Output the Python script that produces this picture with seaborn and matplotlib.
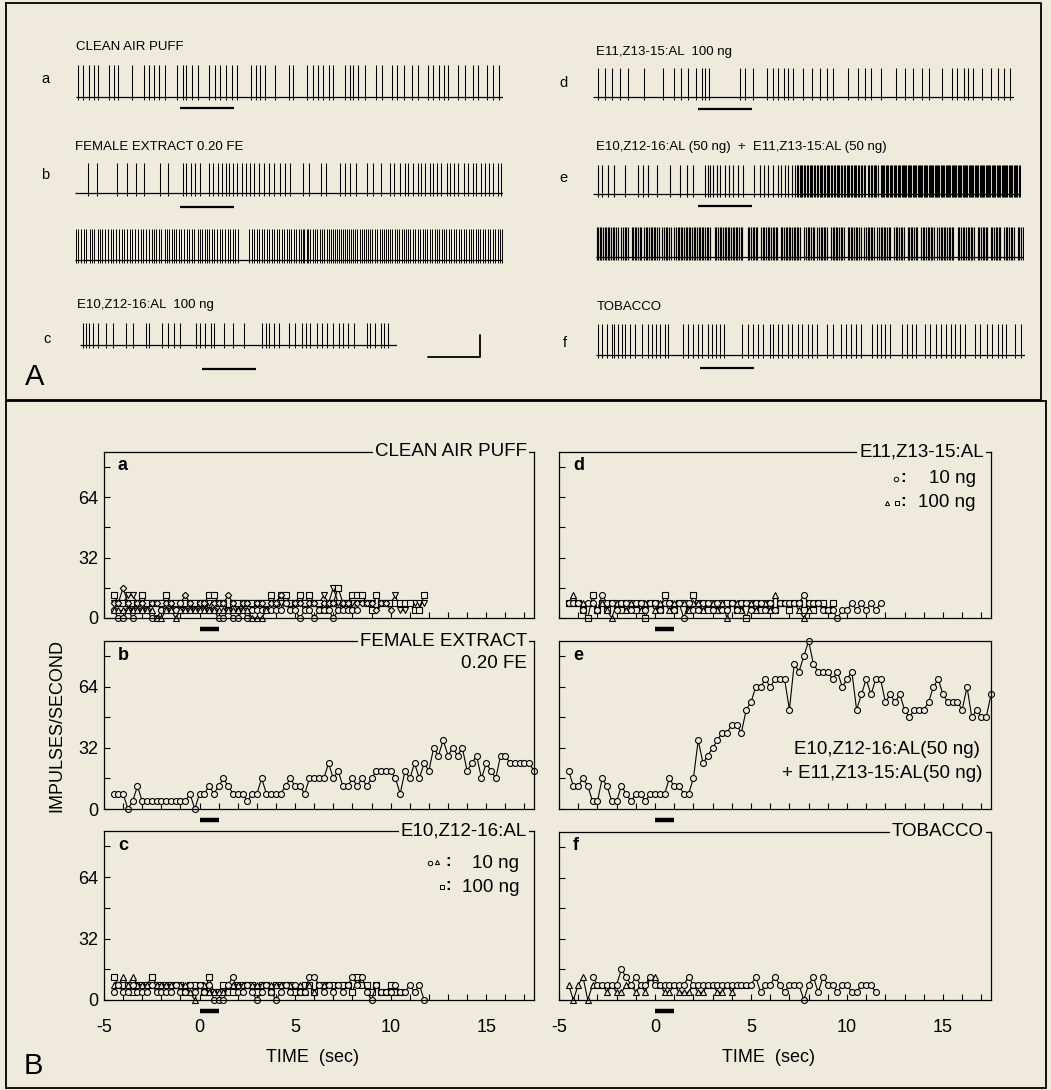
import numpy as np
import matplotlib
matplotlib.use("Agg")
import matplotlib.pyplot as plt
from matplotlib.ticker import MultipleLocator, FixedLocator
import matplotlib.transforms as mtransforms
from matplotlib.lines import Line2D
import seaborn as sns

# =====================  DATA  =====================
# ---- Panel A: spike times (ms relative to stimulus onset) ----
spikes_a = [-1890,-1790,-1680,-1600,-1520,-1310,-1230,-1140,-880,-670,-570,-490,-380,-280,-60,50,120,230,330,
            540,640,740,850,960,1060,1310,1410,1490,1570,1760,2010,2090,2360,2460,2550,2640,2750,2830,3060,3140,
            3210,3300,3430,3630,3740,3920,4010,4140,4290,4410,4600,4690,4800,4880,4970,5140,5280,5420,5510,5680,
            5790,5910]
spikes_b = [-1700,-1540,-1170,-990,-810,-660,-370,-230,50,110,200,280,370,540,620,700,770,850,910,990,1050,1140,
            1220,1300,1370,1470,1560,1650,1750,1850,1940,2040,2270,2380,2620,2700,2960,3050,3150,3260,3460,3570,
            3730,3890,3970,4070,4170,4230,4320,4400,4460,4540,4630,4690,4760,4840,4940,5000,5070,5150,5250,5330,
            5420,5490,5570,5650,5730,5800,5880,5950]
spikes_b_cont = [6000,6045,6100,6140,6190,6250,6290,6340,6400,6440,6490,6540,6600,6650,6690,6740,6800,6850,6890,
                 6950,7000,7040,7090,7150,7200,7240,7290,7350,7400,7440,7480,7530,7580,7640,7690,7730,7770,7810,
                 7860,7900,7950,8000,8050,8090,8140,8190,8250,8300,8340,8380,8420,8470,8520,8560,8610,8660,8700,
                 8760,8810,8850,8900,8950,9000,9210,9250,9300,9350,9390,9440,9490,9530,9580,9620,9670,9720,9760,
                 9810,9850,9900,9950,9990,10030,10080,10120,10160,10200,10230,10270,10300,10340,10380,10420,10470,
                 10510,10550,10590,10640,10680,10720,10760,10800,10830,10870,10900,10940,10980,11020,11060,11100,
                 11130,11170,11210,11250,11290,11330,11370,11410,11450,11490,11540,11580,11620,11660,11700,11740,
                 11780,11820,11860,11900,11950,11990,12030,12070,12110,12150,12190,12240,12280,12330,12370,12420,
                 12460,12500,12550,12590,12640,12680,12730,12770,12820,12860,12910,12950,13000,13040,13090,13130,
                 13180,13220,13270,13310,13360,13400,13450,13490,13540,13580,13630,13670,13720,13760,13810,13850,13890]
spikes_c = [-2209,-2147,-2085,-2011,-1919,-1777,-1641,-1407,-1271,-1037,-975,-747,-623,-518,-407,-111,-37,56,160,
            222,407,580,784,1104,1185,1246,1333,1431,1617,1721,1845,1925,1999,2135,2215,2308,2431,2542,2616,2709,
            2820,3048,3110,3202,3313,3369,3449]
spikes_d = [-1857,-1721,-1586,-1444,-1302,-993,-654,-438,-315,-179,-37,68,130,210,777,870,1012,1271,1394,1487,
            1598,1672,1765,1950,2104,2258,2382,2505,2770,2968,3091,3202,3387,3659,3832,3986,4140,4276,4510,4695,
            4788,4930,5004,5096,5263,5423,5559,5664,5775]
spikes_e = [-1857,-1771,-1660,-1549,-1351,-1104,-1012,-932,-765,-518,-333,-210,-86,130,179,228,284,346,407,500,
            574,654,747,839,1043,1148,1228,1302,1394,1475,1536,1610,1672,1734,
            1800,1825,1850,1880,1905,1930,1960,1985,2010,2040,2065,2090,2115,2145,2170,2200,2225,2250,2280,2300,
            2330,2355,2380,2410,2435,2460,2490,2515,2540,2565,2595,2620,2645,2675,2700,2725,2750,2780,2805,2830,
            2860,2885,2910,2935,2965,2990,3015,3045,3070,3095,3150,3175,3200,3225,3250,3275,3300,3325,3380,3400,
            3425,3450,3475,3500,3525,3550,3570,3600,3625,3650,3670,3700,3720,3745,3770,3790,3815,3840,3860,3885,
            3905,3930,3950,3975,4000,4020,4045,4065,4090,4110,4135,4155,4180,4200,4225,4245,4270,4290,4315,4335,
            4360,4380,4405,4425,4450,4470,4495,4515,4540,4560,4585,4605,4630,4650,4675,4695,4720,4740,4765,4785,
            4810,4830,4855,4875,4900,4920,4945,4965,4990,5010,5035,5055,5080,5100,5125,5145,5170,5190,5215,5235,
            5260,5280,5305,5325,5350,5370,5395,5415,5440,5460,5485,5505,5530,5550,5575,5595,5620,5640,5665,5685,
            5710,5730,5755,5775,5800,5820,5845,5865,5890,5910,5935,5955]
spikes_e_cont = [6000,6030,6060,6090,6120,6150,6180,6210,6240,6270,6300,6330,6360,6390,6460,6490,6520,6550,6580,
                 6650,6680,6710,6740,6770,6800,6830,6880,6910,6940,6970,7000,7030,7060,7090,7120,7150,7220,7250,
                 7280,7310,7340,7370,7440,7470,7500,7530,7560,7590,7620,7650,7680,7710,7740,7770,7800,7830,7860,
                 7890,7920,7950,7980,8010,8040,8070,8100,8190,8220,8250,8280,8310,8340,8370,8400,8430,8460,8490,
                 8520,8550,8580,8610,8640,8670,8700,8800,8830,8860,8890,8920,8950,8980,9050,9080,9110,9140,9170,
                 9200,9230,9260,9290,9320,9350,9410,9440,9470,9500,9530,9560,9590,9620,9650,9680,9710,9740,9770,
                 9850,9880,9910,9940,9970,10000,10030,10090,10120,10150,10180,10210,10240,10270,10340,10370,10400,
                 10430,10460,10490,10520,10550,10580,10650,10680,10710,10740,10770,10800,10830,10860,10890,10960,
                 10990,11020,11050,11080,11110,11140,11200,11230,11260,11290,11320,11350,11380,11410,11440,11510,
                 11540,11570,11600,11630,11660,11690,11760,11790,11820,11850,11880,11910,11940,12010,12040,12070,
                 12100,12130,12160,12190,12220,12250,12310,12340,12370,12400,12430,12460,12490,12520,12550,12580,
                 12610,12690,12720,12750,12780,12810,12840,12870,12900,12930,12960,12990,13060,13090,13120,13150,
                 13180,13210,13240,13300,13330,13360,13390,13420,13450,13480,13550,13580,13610,13640,13670,13700,
                 13730,13800,13830,13860,13890]
spikes_f = [-1894,-1808,-1728,-1635,-1586,-1524,-1450,-1388,-1296,-1203,-1067,-969,-895,-814,-740,-648,-598,-309,
            -216,-123,-31,43,142,216,290,370,450,771,882,987,1080,1172,1296,1357,1438,1512,1635,1709,1820,1894,
            1993,2079,2160,2345,2468,2610,2696,2795,2881,2980,3190,3270,3350,3424,3517,3733,3825,3918,3992,4165,
            4257,4362,4461,4547,4646,4720,4813,4905,5090,5183,5306,5399,5522,5596,5676,5831,5954]

trace_titles = ["CLEAN AIR PUFF", "FEMALE EXTRACT 0.20 FE", "E10,Z12-16:AL  100 ng",
                "E11,Z13-15:AL  100 ng", "E10,Z12-16:AL (50 ng)  +  E11,Z13-15:AL (50 ng)", "TOBACCO"]
STIM_MS = 1000          # stimulus duration (ms)

# ---- Panel B: impulses/second in 0.25 s bins ----
BIN = 0.25
STIM_S = 1.0
rate_a_circle = [4,0,0,4,0,4,4,4,0,0,4,4,4,4,8,4,4,4,4,4,4,4,0,0,4,0,0,4,0,4,4,4,4,4,4,4,8,4,4,0,4,4,0,4,4,4,
                 0,4,4,4,4,4]
rate_a_square = [12,8,8,8,8,8,12,8,8,8,8,12,8,8,4,8,8,8,8,8,12,12,8,8,4,8,8,8,8,8,8,8,8,12,8,12,12,8,8,12,8,12,
                 8,8,4,8,8,16,8,8,12,12,12,8,4,12,8,8,8,8,8,8,8,4,4,12]
rate_a_diamond = [8,8,16,8,4,8,8,4,8,8,4,8,8,4,8,12,8,4,8,8,4,8,8,8,12,8,4,8,8,4,8,8,4,8,8,12,8,4,8,8,4,8,8,4,
                  8,8,8,4,8,8,4,8,8,8,8,4,8,8,4]
rate_a_tridown = [8,8,8,12,12,8,8,8,8,8,8,8,8,8,8,8,8,8,8,8,8,8,8,8,4,8,8,8,8,8,8,8,8,8,8,8,8,8,8,8,8,8,8,8,12,
                  8,16,8,8,8,8,8,8,8,8,4,8,8,8,12,4,4,8,8,8,8]
rate_a_triup = [4,4,4,4,4,4,4,4,4,0,0,4,4,0,4,4,4,4,4,4,4,4,4,4,4,4,4,4,4,0,0,0,4]

rate_b = [8,8,8,0,4,12,4,4,4,4,4,4,4,4,4,4,8,0,8,8,12,8,12,16,12,8,8,8,4,8,8,16,8,8,8,8,12,16,12,12,8,16,16,16,
          16,24,16,20,12,12,16,12,16,12,16,20,20,20,20,16,8,20,16,24,16,24,20,32,28,36,28,32,28,32,20,24,28,16,24,
          20,16,28,28,24,24,24,24,24,20]

rate_c_circle = [4,8,4,4,8,4,4,4,8,4,4,4,4,8,4,4,8,4,8,4,8,0,0,0,8,12,4,4,8,4,0,4,8,4,0,4,8,4,8,4,4,12,12,8,4,
                 8,4,8,4,8,12,8,12,4,0,8,4,4,4,8,4,4,8,4,8,0]
rate_c_triangle = [8,8,12,8,12,8,8,8,8,8,8,8,8,8,8,8,4,0,8,8,4,4,4,4,8,8,8,8,8,8,8,8,8,8,8,8,8,8,8,8,4,8,4,8,8,8]
rate_c_square = [12,8,8,8,4,8,8,8,12,8,8,8,8,8,8,4,8,8,8,4,12,4,4,8,4,4,8,8,8,8,4,8,8,4,8,8,8,8,4,4,8,8,4,8,8,8,
                 8,8,8,8,4,12,8,8,4,8,4,4,8,4,4]

rate_d_circle = [8,8,8,4,8,8,4,12,8,8,4,8,8,4,8,8,4,8,8,4,8,8,4,8,0,8,4,4,8,8,4,8,4,4,8,4,8,8,4,8,8,4,8,4,8,8,8,
                 8,8,12,8,8,8,4,4,4,0,4,4,8,4,8,4,8,4,8]
rate_d_square = [8,8,8,4,0,12,4,8,4,8,8,4,8,8,4,8,0,8,8,4,12,8,4,8,8,4,12,8,8,4,8,4,8,8,8,4,8,0,8,8,4,8,8,4,8,8,
                 4,8,8,4,8,4,8,8,4,8]
rate_d_triangle = [8,12,8,8,8,8,4,8,4,0,8,8,4,8,8,4,8,8,4,8,8,4,8,8,8,4,8,8,4,8,8,4,8,0,8,8,4,8,8,4,8,8,4,12,8,
                   8,8,8,4,0,4,8,8]

rate_e = [20,12,12,16,12,4,4,16,12,4,4,12,8,4,8,8,4,8,8,8,8,16,12,12,8,8,16,36,24,28,32,36,40,40,44,44,40,52,56,
          64,64,68,64,68,68,68,52,76,72,80,88,76,72,72,72,68,72,64,68,72,52,60,68,60,68,68,56,60,56,60,52,48,52,
          52,52,56,64,68,60,56,56,56,52,64,48,52,48,48,60]

rate_f_circle = [12,8,8,8,8,8,16,12,8,12,8,8,12,8,8,8,8,8,8,8,12,8,8,8,8,8,8,8,8,8,8,8,8,8,12,4,8,8,12,8,4,8,8,
                 8,0,8,12,4,12,8,8,4,8,8,4,4,8,8,8,4]
rate_f_triangle = [8,0,8,12,0,8,8,8,4,8,4,4,8,8,4,8,4,12,12,8,4,4,8,4,4,4,8,4,4,8,8,4,4,8,4,8,8,8]

# =====================  STYLE  =====================
BG = "#eeebdc"
W, H = 1051, 1090
sns.set_theme(style="white", rc={
    "axes.facecolor": BG, "figure.facecolor": BG, "savefig.facecolor": BG,
    "axes.edgecolor": "black", "axes.linewidth": 0.9, "xtick.color": "black",
    "ytick.color": "black", "text.color": "black", "axes.unicode_minus": False})
plt.rcParams["font.family"] = ["Liberation Sans", "DejaVu Sans"]

fig = plt.figure(figsize=(W / 100, H / 100), dpi=100)


def px_axes(x0, y0, x1, y1):
    return fig.add_axes([x0 / W, 1 - y1 / H, (x1 - x0) / W, (y1 - y0) / H])


def ftext(x, y, s, **kw):
    fig.text(x / W, 1 - y / H, s, **kw)


def fline(xs, ys, lw=1.3):
    fig.add_artist(Line2D([x / W for x in xs], [1 - y / H for y in ys], color="black", lw=lw,
                          transform=fig.transFigure))


# ---------------- Panel A: spike traces ----------------
def draw_trace(x0, x1, base, spikes, t0, t1, height, bar=None, lw=0.75):
    ax = px_axes(x0, base - 40, x1, base + 30)      # 1 data unit = 1 px vertically
    ax.set_xlim(t0, t1)
    ax.set_ylim(-30, 40)
    ax.axis("off")
    ax.plot([t0, t1], [0, 0], color="black", lw=0.9, solid_capstyle="butt")
    ax.vlines(spikes, -3, height, color="black", lw=lw)
    if bar is not None:
        ax.plot([0, STIM_MS], [-bar, -bar], color="black", lw=1.6, solid_capstyle="butt", clip_on=False)
    return ax


draw_trace(76, 503, 97, spikes_a, -1926, 5981, 32, bar=11)
draw_trace(75, 503, 193, spikes_b, -1944, 5981, 30, bar=14)
draw_trace(75, 503, 260, spikes_b_cont, 5981, 13907, 31, lw=0.7)
axc = draw_trace(80, 397, 345, spikes_c, -2259, 3611, 22, bar=24)
# calibration bar (1 s)
axc.plot([5148 - 1000 * 0.963, 5148, 5148], [-12, -12, 10], color="black", lw=1.3, clip_on=False)
draw_trace(593, 1014, 97, spikes_d, -1944, 5852, 29, bar=12)
draw_trace(593, 1021, 194, spikes_e, -1944, 5981, 29, bar=12, lw=0.8)
draw_trace(596, 1024, 257, spikes_e_cont, 5990, 13916, 30, lw=0.85)
draw_trace(596, 1025, 355, spikes_f, -1926, 6019, 31, bar=13)

ftext(76, 47, trace_titles[0], fontsize=9.5, va="center")
ftext(75, 147, trace_titles[1], fontsize=9.5, va="center")
ftext(77, 305, trace_titles[2], fontsize=9.5, va="center")
ftext(596, 52, trace_titles[3], fontsize=9.5, va="center")
ftext(596, 147, trace_titles[4], fontsize=9.5, va="center")
ftext(597, 307, trace_titles[5], fontsize=9.5, va="center")
for (x, y, s) in [(45, 79, "a"), (45, 175, "b"), (47, 339, "c"), (563, 83, "d"), (563, 178, "e"), (565, 343, "f")]:
    ftext(x, y, s, fontsize=10.5, ha="center", va="center")
ftext(35, 377, "A", fontsize=21, ha="center", va="center")

# ---------------- Panel B: rate histograms ----------------
MK = dict(o=4.3, s=4.3, D=3.3, v=4.6, **{"^": 4.6})


def draw_rate(box, series, letter, show_y, show_x):
    x0, y0, x1, y1 = box
    w, h = x1 - x0, y1 - y0
    ax = px_axes(*box)
    for vals, start, mk in series:
        t = start + BIN * np.arange(len(vals))
        sns.lineplot(x=t, y=vals, ax=ax, color="black", linewidth=0.8, marker=mk, markersize=MK[mk],
                     markerfacecolor=BG, markeredgecolor="black", markeredgewidth=0.8,
                     estimator=None, sort=False, legend=False, clip_on=False)
    ax.set_xlim(-5, 17.5)
    ax.set_ylim(0, 88)
    ax.set_xlabel("")
    ax.set_ylabel("")
    ax.xaxis.set_major_locator(FixedLocator([-5, 0, 5, 10, 15]))
    ax.xaxis.set_minor_locator(MultipleLocator(1))
    ax.yaxis.set_major_locator(FixedLocator([0, 32, 64]))
    ax.yaxis.set_minor_locator(FixedLocator([16, 48, 80]))
    ax.tick_params(which="both", direction="in", length=4, width=0.8, top=False, right=False,
                   bottom=True, left=True, labelsize=13)
    ax.tick_params(axis="x", pad=14)
    ax.tick_params(axis="y", pad=4)
    if not show_y:
        ax.tick_params(labelleft=False)
    if not show_x:
        ax.tick_params(labelbottom=False)
    for sp in ax.spines.values():
        sp.set_linewidth(0.9)
        sp.set_color("black")
    tr = mtransforms.blended_transform_factory(ax.transData, ax.transAxes)
    ax.plot([0, STIM_S], [-11 / h, -11 / h], transform=tr, color="black", lw=3.2,
            solid_capstyle="butt", clip_on=False)
    ax.text(14 / w, 1 - 14 / h, letter, transform=ax.transAxes, fontsize=13, fontweight="bold",
            ha="left", va="center")
    return ax


def title(ax, box, s, **kw):
    w = box[2] - box[0]
    ax.text(1 - 7 / w, 1, s, transform=ax.transAxes, ha="right", va="center", fontsize=13.5,
            bbox=dict(boxstyle="square,pad=0.12", fc=BG, ec="none"), zorder=6, **kw)


def atext(ax, box, x, y, s, **kw):
    ax.text((x - box[0]) / (box[2] - box[0]), 1 - (y - box[1]) / (box[3] - box[1]), s,
            transform=ax.transAxes, **kw)


def glyph(ax, box, x, y, mk, ms=3.2):
    ax.plot([(x - box[0]) / (box[2] - box[0])], [1 - (y - box[1]) / (box[3] - box[1])], ls="none",
            marker=mk, ms=ms, mfc=BG, mec="black", mew=0.7, transform=ax.transAxes, clip_on=False)


box_a = (104, 452, 534, 618)
box_b = (104, 641, 534, 809)
box_c = (104, 831, 534, 1000)
box_d = (559, 452, 991, 618)
box_e = (559, 641, 991, 809)
box_f = (559, 832, 991, 1000)

ax_a = draw_rate(box_a, [(rate_a_tridown, -4.5, "v"), (rate_a_square, -4.5, "s"), (rate_a_diamond, -4.5, "D"),
                         (rate_a_circle, -4.5, "o"), (rate_a_triup, -4.5, "^")], "a", True, False)
title(ax_a, box_a, "CLEAN AIR PUFF")

ax_b = draw_rate(box_b, [(rate_b, -4.5, "o")], "b", True, False)
title(ax_b, box_b, "FEMALE EXTRACT")
atext(ax_b, box_b, 527, 663, "0.20 FE", fontsize=13.5, ha="right", va="center")

ax_c = draw_rate(box_c, [(rate_c_square, -4.5, "s"), (rate_c_triangle, -4.5, "^"), (rate_c_circle, -4.5, "o")],
                 "c", True, True)
title(ax_c, box_c, "E10,Z12-16:AL")
glyph(ax_c, box_c, 430, 863, "o")
glyph(ax_c, box_c, 437, 862, "^", 3.0)
atext(ax_c, box_c, 448, 862, ":", fontsize=12, ha="center", va="center", fontweight="bold")
atext(ax_c, box_c, 519, 863, "10 ng", fontsize=13.5, ha="right", va="center")
glyph(ax_c, box_c, 442, 887, "s", 3.0)
atext(ax_c, box_c, 448, 886, ":", fontsize=12, ha="center", va="center", fontweight="bold")
atext(ax_c, box_c, 519, 887, "100 ng", fontsize=13.5, ha="right", va="center")

ax_d = draw_rate(box_d, [(rate_d_square, -4.5, "s"), (rate_d_triangle, -4.5, "^"), (rate_d_circle, -4.5, "o")],
                 "d", False, False)
title(ax_d, box_d, "E11,Z13-15:AL")
glyph(ax_d, box_d, 896, 479, "o")
atext(ax_d, box_d, 903, 478, ":", fontsize=12, ha="center", va="center", fontweight="bold")
atext(ax_d, box_d, 976, 479, "10 ng", fontsize=13.5, ha="right", va="center")
glyph(ax_d, box_d, 887, 503, "^", 3.0)
glyph(ax_d, box_d, 897, 503, "s", 3.0)
atext(ax_d, box_d, 903, 502, ":", fontsize=12, ha="center", va="center", fontweight="bold")
atext(ax_d, box_d, 976, 503, "100 ng", fontsize=13.5, ha="right", va="center")

ax_e = draw_rate(box_e, [(rate_e, -4.5, "o")], "e", False, False)
atext(ax_e, box_e, 980, 750, "E10,Z12-16:AL(50 ng)", fontsize=13.5, ha="right", va="center")
atext(ax_e, box_e, 982, 773, "+ E11,Z13-15:AL(50 ng)", fontsize=13.5, ha="right", va="center")

ax_f = draw_rate(box_f, [(rate_f_triangle, -4.5, "^"), (rate_f_circle, -3.25, "o")], "f", False, True)
title(ax_f, box_f, "TOBACCO")

ftext(313, 1057, "TIME  (sec)", fontsize=13, ha="center", va="center")
ftext(769, 1057, "TIME  (sec)", fontsize=13, ha="center", va="center")
ftext(57, 725, "IMPULSES/SECOND", fontsize=13, ha="center", va="center", rotation=90)
ftext(33, 1066, "B", fontsize=21, ha="center", va="center")

# panel frames
fline([6, 1041, 1041, 6, 6], [3, 3, 400, 400, 3], lw=1.3)
fline([6, 1046], [401, 401], lw=1.3)
fline([1046, 1046], [401, 1088], lw=1.3)
fline([6, 6], [401, 1088], lw=1.3)
fline([6, 1046], [1088, 1088], lw=1.3)

fig.savefig("out.png", dpi=100, facecolor=BG)
